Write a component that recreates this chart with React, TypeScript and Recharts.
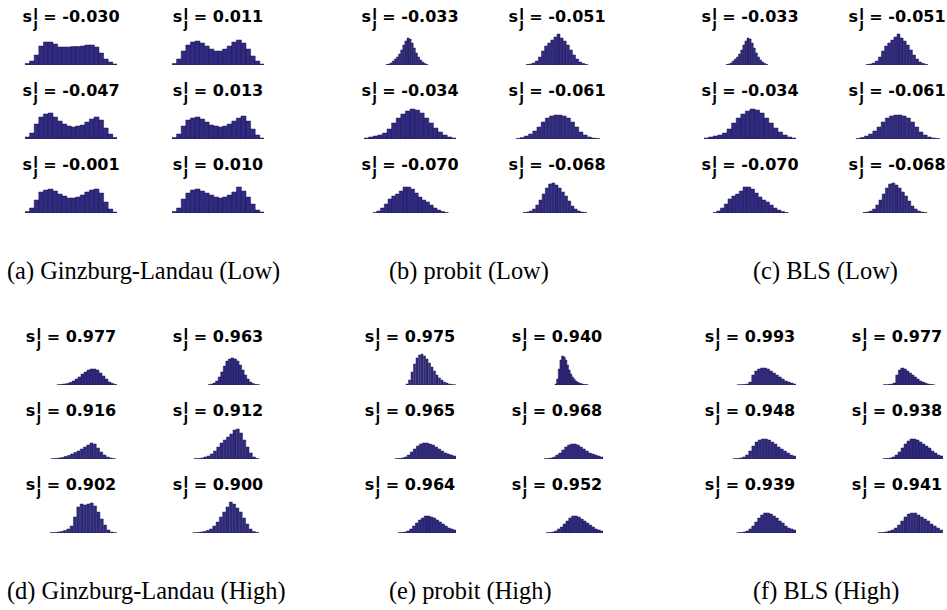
import { Bar, BarChart, XAxis, YAxis } from 'recharts';

// s_j^l values shown above each small histogram (row by row, left then right)
const glLowValues = ['-0.030', '0.011', '-0.047', '0.013', '-0.001', '0.010'];
const probitLowValues = ['-0.033', '-0.051', '-0.034', '-0.061', '-0.070', '-0.068'];
const blsLowValues = ['-0.033', '-0.051', '-0.034', '-0.061', '-0.070', '-0.068'];
const glHighValues = ['0.977', '0.963', '0.916', '0.912', '0.902', '0.900'];
const probitHighValues = ['0.975', '0.940', '0.965', '0.968', '0.964', '0.952'];
const blsHighValues = ['0.993', '0.977', '0.948', '0.938', '0.939', '0.941'];

// histogram ranges (fraction of the shared x range) and bin counts
const glLowRanges = [[0, 1], [0, 1], [0, 1], [0, 1], [0, 1], [0, 1]];
const glLowCounts = [
  [1.5, 4, 10, 19, 23, 23, 21, 18, 18, 18, 18.5, 18.5, 19, 20, 20, 18, 12, 6, 3, 1],
  [1.5, 6, 14, 20, 23, 24, 22, 19, 16, 14, 14, 16, 19, 23, 25, 22, 16, 9, 4, 1],
  [2, 6, 15, 22, 25, 26, 22, 18, 15, 13, 12, 13, 14, 17, 20, 22, 19, 11, 5, 1.5],
  [1.5, 5, 13, 19, 21, 22, 20, 17, 14, 13, 12, 13, 15, 18, 21, 23, 18, 10, 4, 1],
  [1.5, 5, 13, 21, 23, 24, 22, 19, 17, 15, 15, 16, 18, 21, 23, 24, 20, 11, 4, 1],
  [1.5, 5, 14, 20, 23, 24, 22, 20, 18, 16, 15, 16, 18, 21, 26, 22, 16, 9, 3, 1],
];

const probitLowRanges = [[0.239, 0.696], [0.163, 0.837], [0, 1], [0.054, 0.967], [0.098, 0.913], [0.13, 0.826]];
const probitLowCounts = [
  [0.5, 1, 2, 4, 6, 8, 11, 15, 20, 24, 27, 26, 22, 17, 12, 8, 5, 3, 1.5, 0.5],
  [0.5, 1, 2, 4, 8, 14, 19, 22, 25, 28, 31, 27, 24, 20, 15, 10, 6, 3, 1.5, 0.5],
  [1, 2, 3, 4, 6, 10, 16, 21, 25, 28, 30, 29, 26, 21, 16, 11, 7, 4, 2, 1],
  [0.5, 1.5, 3, 5, 8, 12, 17, 21, 23, 24, 24, 23, 21, 17, 12, 7, 4, 2, 1, 0.5],
  [0.5, 2, 5, 9, 14, 17, 19, 22, 26, 26, 24, 20, 16, 13, 11, 8, 5, 3, 1.5, 0.5],
  [0.5, 1, 2, 4, 8, 13, 19, 25, 29, 30, 28, 25, 21, 17, 12, 7, 4, 2, 1, 0.5],
];

const blsLowRanges = probitLowRanges;
const blsLowCounts = probitLowCounts;

const glHighRanges = [[0.348, 1], [0.391, 0.946], [0.283, 0.989], [0.239, 0.946], [0.272, 1], [0.228, 0.946]];
const glHighCounts = [
  [0.3, 0.5, 1, 1.5, 2.5, 4, 6, 8, 11, 13, 15, 16, 16, 15, 12, 9, 6, 3, 1.5, 0.5],
  [0.3, 1, 2, 4, 8, 13, 19, 24, 26, 27, 26, 24, 20, 15, 10, 6, 3, 1.5, 0.5, 0.3],
  [0.3, 0.5, 1, 1.5, 2.5, 3.5, 5, 6.5, 8, 10, 12, 14, 16, 15, 11, 7, 4, 2, 1, 0.3],
  [0.3, 0.5, 1, 2, 3, 5, 8, 12, 16, 19, 22, 25, 29, 30, 26, 19, 12, 6, 2, 0.5],
  [0.3, 0.5, 1, 1.5, 2.5, 4, 7, 16, 26, 29, 28, 29, 30, 27, 21, 14, 8, 3, 1, 0.3],
  [0.3, 0.5, 1, 1.5, 2.5, 4, 7, 11, 16, 21, 26, 31, 29, 25, 21, 15, 9, 4, 1.5, 0.5],
];

const probitHighRanges = [[0.457, 1], [0.478, 0.837], [0.337, 1], [0.359, 1], [0.37, 1], [0.38, 1]];
const probitHighCounts = [
  [1, 5, 13, 21, 27, 30, 31, 29, 26, 22, 18, 14, 10, 7, 5, 3, 2, 1, 0.5, 0.3],
  [1, 6, 16, 25, 29, 28, 25, 20, 15, 11, 8, 6, 4, 3, 2, 1.5, 1, 0.5, 0.3, 0.2],
  [0.3, 0.5, 1, 2, 4, 7, 10, 13, 15, 16, 16, 15, 14, 12, 10, 8, 6, 5, 4, 3],
  [0.3, 0.5, 1, 2, 4, 6, 9, 12, 14, 15, 15, 14, 12, 10, 8, 6, 5, 4, 3, 2],
  [0.3, 0.5, 1, 2, 4, 7, 10, 13, 15, 17, 17, 16, 15, 13, 11, 9, 7, 5, 4, 3],
  [0.3, 0.5, 1, 2, 4, 6, 9, 12, 15, 17, 17, 16, 14, 12, 10, 8, 6, 4, 3, 2],
];

const blsHighRanges = [[0.359, 1], [0.348, 0.902], [0.315, 1], [0.348, 1], [0.359, 1], [0.293, 1]];
const blsHighCounts = [
  [0.2, 0.3, 0.5, 1, 3, 10, 14, 16, 17, 17, 16, 14, 12, 10, 8, 6, 4, 3, 2, 1],
  [0.2, 0.3, 0.5, 1, 2, 10, 15, 17, 16, 14, 12, 10, 8, 6, 4, 3, 2, 1, 0.5, 0.3],
  [0.3, 0.5, 1, 2, 4, 8, 13, 17, 19, 20, 20, 19, 17, 15, 12, 10, 8, 6, 4, 3],
  [0.3, 0.5, 1, 2, 4, 7, 11, 15, 18, 20, 20, 19, 17, 15, 13, 11, 8, 6, 4, 3],
  [0.3, 0.5, 1, 2, 4, 7, 11, 15, 18, 20, 20, 19, 17, 15, 12, 10, 7, 5, 4, 3],
  [0.3, 0.5, 1, 2, 3, 5, 8, 12, 16, 19, 20, 20, 18, 16, 14, 12, 9, 7, 5, 3],
];

const captions = [
  '(a) Ginzburg-Landau (Low)',
  '(b) probit (Low)',
  '(c) BLS (Low)',
  '(d) Ginzburg-Landau (High)',
  '(e) probit (High)',
  '(f) BLS (High)',
];

const BAR_FILL = '#302b80';
const BAR_EDGE = '#1d1950';
const AX_W = 92;
const PLOT_H = 34;
const COL_GAP = 147;
const PANEL_LEFT = [25, 364, 704];
const PANEL_TOP = [0, 320];
const ROW_BASE = [65, 139, 213];
const CAPTION_X = [7, 389, 753];
const CAPTION_Y = [279, 599];

const panels = [
  { values: glLowValues, counts: glLowCounts, ranges: glLowRanges },
  { values: probitLowValues, counts: probitLowCounts, ranges: probitLowRanges },
  { values: blsLowValues, counts: blsLowCounts, ranges: blsLowRanges },
  { values: glHighValues, counts: glHighCounts, ranges: glHighRanges },
  { values: probitHighValues, counts: probitHighCounts, ranges: probitHighRanges },
  { values: blsHighValues, counts: blsHighCounts, ranges: blsHighRanges },
];

const toBins = (counts: number[], range: number[]) =>
  counts.map((h, i) => ({
    x: range[0] + ((i + 0.5) * (range[1] - range[0])) / counts.length,
    h,
  }));

const Hist = ({ counts, range, left, base }: { counts: number[]; range: number[]; left: number; base: number }) => (
  <div style={{ position: 'absolute', left, top: base - PLOT_H }}>
    <BarChart
      width={AX_W}
      height={PLOT_H}
      data={toBins(counts, range)}
      margin={{ top: 0, right: 0, bottom: 0, left: 0 }}
      barCategoryGap={0}
      barGap={0}
    >
      <XAxis dataKey="x" type="number" domain={[0, 1]} hide allowDataOverflow />
      <YAxis type="number" domain={[0, PLOT_H]} hide allowDataOverflow />
      <Bar dataKey="h" fill={BAR_FILL} stroke={BAR_EDGE} strokeWidth={0.5} isAnimationActive={false} />
    </BarChart>
  </div>
);

const Title = ({ cx, y, value }: { cx: number; y: number; value: string }) => (
  <text x={cx} y={y} textAnchor="middle" fontFamily="DejaVu Sans" fontWeight="bold" fontSize={16} fill="#000">
    <tspan>s</tspan>
    <tspan dx={1.5} dy={-4.5} fontSize={12.5}>l</tspan>
    <tspan dx={-4.3} dy={10} fontSize={12.5}>j</tspan>
    <tspan dy={-5.5}>{' = ' + value}</tspan>
  </text>
);

export default function App() {
  const hists: any[] = [];
  const titles: any[] = [];
  panels.forEach((p, pi) => {
    const top = PANEL_TOP[Math.floor(pi / 3)];
    const pLeft = PANEL_LEFT[pi % 3];
    p.counts.forEach((c, k) => {
      const left = pLeft + (k % 2) * COL_GAP;
      const base = top + ROW_BASE[Math.floor(k / 2)];
      hists.push(<Hist key={`h-${pi}-${k}`} counts={c} range={p.ranges[k]} left={left} base={base} />);
      titles.push(<Title key={`t-${pi}-${k}`} cx={left + AX_W / 2} y={base - 43} value={p.values[k]} />);
    });
  });

  return (
    <div style={{ position: 'absolute', left: 0, top: 0, width: 947, height: 610, background: '#fff', overflow: 'hidden' }}>
      {hists}
      <svg width={947} height={610} style={{ position: 'absolute', left: 0, top: 0, pointerEvents: 'none' }}>
        {titles}
        {captions.map((c, i) => (
          <text
            key={c}
            x={CAPTION_X[i % 3]}
            y={CAPTION_Y[Math.floor(i / 3)]}
            fontFamily="Liberation Serif"
            fontSize={24.4}
            fill="#000"
          >
            {c}
          </text>
        ))}
      </svg>
    </div>
  );
}
